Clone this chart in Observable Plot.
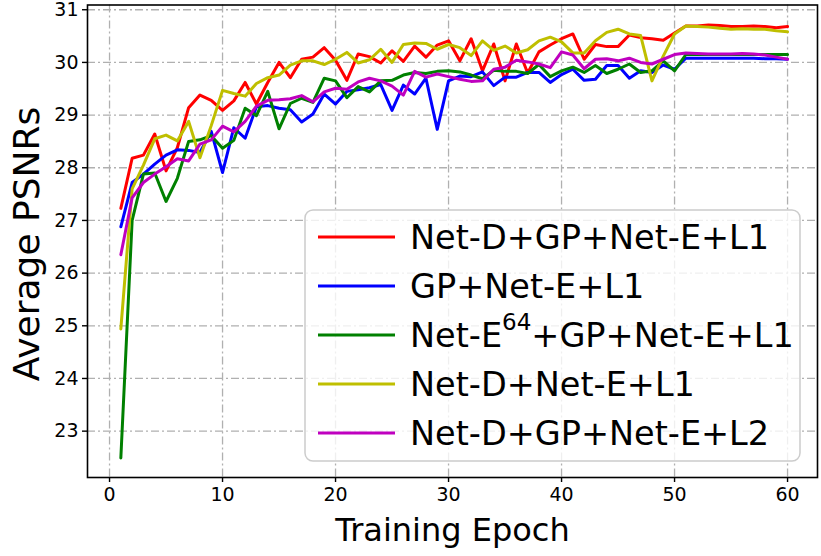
<!DOCTYPE html>
<html><head><meta charset="utf-8">
<script src="https://cdn.jsdelivr.net/npm/d3@7"></script>
<script src="https://cdn.jsdelivr.net/npm/@observablehq/plot@0.6"></script>
<style>
body{margin:0;background:#fff;}
#chart svg{display:block;}
</style></head><body><div id="chart"></div>
<script>
const seriesNames = ["Net-D+GP+Net-E+L1", "GP+Net-E+L1", "Net-E64+GP+Net-E+L1", "Net-D+Net-E+L1", "Net-D+GP+Net-E+L2"];
const seriesColors = ["#ff0000", "#0000ff", "#008000", "#bfbf00", "#bf00bf"];
const xTicks = [0, 10, 20, 30, 40, 50, 60];
const yTicks = [23, 24, 25, 26, 27, 28, 29, 30, 31];
const epochs = d3.range(1, 61);

const netDGPNetEL1 = [27.23,28.18,28.24,28.64,27.94,28.38,29.14,29.38,29.28,29.09,
  29.27,29.62,29.21,29.62,30.00,29.71,30.06,30.10,30.28,30.04,
  29.66,30.16,30.11,29.99,30.22,30.02,30.31,30.10,30.33,30.41,
  30.03,30.45,29.84,30.35,29.65,30.35,29.80,30.20,30.33,30.45,
  30.54,30.06,30.34,30.30,30.30,30.52,30.47,30.45,30.42,30.56,
  30.69,30.69,30.71,30.70,30.68,30.68,30.69,30.68,30.66,30.68];
const gpNetEL1 = [26.88,27.72,27.88,28.07,28.24,28.34,28.33,28.29,28.69,27.91,
  28.76,28.56,29.16,29.18,29.13,29.10,28.87,29.02,29.40,29.21,
  29.45,29.48,29.52,29.58,29.09,29.57,29.40,29.70,28.73,29.65,
  29.74,29.73,29.82,29.56,29.72,29.72,29.81,29.81,29.62,29.77,
  29.87,29.66,29.68,29.94,29.94,29.70,29.84,29.81,29.95,29.87,
  30.08,30.08,30.08,30.08,30.08,30.08,30.08,30.07,30.07,30.06];
const netE64GPNetEL1 = [22.49,27.00,27.88,27.90,27.36,27.80,28.50,28.53,28.61,28.37,
  28.52,29.13,28.99,29.45,28.74,29.22,29.32,29.24,29.70,29.65,
  29.33,29.54,29.44,29.65,29.66,29.76,29.81,29.79,29.83,29.84,
  29.82,29.76,29.69,29.85,29.83,29.83,29.79,29.96,29.73,29.84,
  29.91,29.81,29.94,29.79,29.87,29.97,29.81,29.84,30.03,29.84,
  30.15,30.15,30.15,30.15,30.15,30.15,30.15,30.15,30.15,30.15];
const netDNetEL1 = [24.94,27.60,28.05,28.55,28.62,28.51,28.88,28.19,28.80,29.47,
  29.41,29.36,29.60,29.71,29.76,29.95,30.03,30.03,29.96,30.06,
  30.19,29.99,30.05,30.25,30.00,30.34,30.37,30.36,30.25,30.34,
  30.28,30.13,30.41,30.23,30.31,30.18,30.24,30.41,30.48,30.39,
  30.18,30.18,30.41,30.57,30.63,30.54,30.51,29.65,30.12,30.54,
  30.69,30.68,30.67,30.65,30.63,30.64,30.63,30.63,30.60,30.58];
const netDGPNetEL2 = [26.35,27.43,27.72,27.88,28.02,28.17,28.13,28.45,28.53,28.79,
  28.68,28.88,29.17,29.28,29.29,29.31,29.37,29.25,29.44,29.51,
  29.49,29.63,29.70,29.65,29.55,29.38,29.83,29.72,29.78,29.73,
  29.68,29.64,29.65,29.87,29.91,30.04,30.01,29.97,29.90,30.20,
  30.14,29.88,30.06,30.07,30.03,30.08,30.00,29.97,30.06,30.15,
  30.18,30.17,30.16,30.16,30.16,30.17,30.16,30.14,30.10,30.06];

const seriesValues = [netDGPNetEL1, gpNetEL1, netE64GPNetEL1, netDNetEL1, netDGPNetEL2];
const rows = [];
seriesNames.forEach((name, s) => {
  epochs.forEach((e, i) => rows.push({series: name, epoch: e, value: seriesValues[s][i]}));
});

const gridStyle = {stroke: "#b0b0b0", strokeOpacity: 1, strokeWidth: 1.3, strokeDasharray: "8,3,2,3"};

const chart = Plot.plot({
  width: 821, height: 556,
  marginLeft: 87, marginRight: 4, marginTop: 4.5, marginBottom: 79,
  style: {fontFamily: "DejaVu Sans", background: "#fff", overflow: "visible", color: "#000"},
  x: {domain: [-1.95, 62.65]},
  y: {domain: [22.12, 31.09]},
  color: {domain: seriesNames, range: seriesColors},
  marks: [
    Plot.gridX(xTicks, gridStyle),
    Plot.gridY(yTicks, gridStyle),
    Plot.line(rows, {x: "epoch", y: "value", z: "series", stroke: "series", strokeWidth: 3, strokeLinejoin: "round"}),
    Plot.frame({stroke: "#000", strokeWidth: 1.6}),
    Plot.axisX(xTicks, {tickSize: 5, tickPadding: 5, fontSize: 19, label: null, strokeWidth: 1.4, tickFormat: d => String(d)}),
    Plot.axisY(yTicks, {tickSize: 5, tickPadding: 4, fontSize: 19, label: null, strokeWidth: 1.4, tickFormat: d => String(d)}),
    Plot.text(["Training Epoch"], {frameAnchor: "bottom", dy: 63, fontSize: 32, fill: "#000"})
  ]
});
document.getElementById("chart").append(chart);

const svg = d3.select(chart);
// y-axis title
svg.append("text").attr("transform", "translate(26,244) rotate(-90)")
  .attr("text-anchor", "middle").attr("dy", "0.36em")
  .attr("font-family", "DejaVu Sans").attr("font-size", 36).attr("fill", "#000")
  .text("Average PSNRs");

// legend (matplotlib style, lower right)
const lg = svg.append("g").attr("font-family", "DejaVu Sans").attr("text-anchor", "start");
const box = {x: 305, y: 210, w: 495, h: 251};
lg.append("rect").attr("x", box.x).attr("y", box.y).attr("width", box.w).attr("height", box.h)
  .attr("rx", 8).attr("fill", "#fff").attr("fill-opacity", 0.8).attr("stroke", "#cccccc").attr("stroke-width", 1.5);
seriesNames.forEach((name, i) => {
  const cy = 237 + i * 49;
  lg.append("line").attr("x1", 318).attr("x2", 395).attr("y1", cy).attr("y2", cy)
    .attr("stroke", seriesColors[i]).attr("stroke-width", 3);
  const t = lg.append("text").attr("x", 410).attr("y", cy).attr("dy", "0.36em")
    .attr("text-anchor", "start").attr("font-size", 33.5).attr("fill", "#000");
  if (name === "Net-E64+GP+Net-E+L1") {
    t.append("tspan").text("Net-E");
    t.append("tspan").attr("font-size", 23).attr("dy", "-0.75em").text("64");
    t.append("tspan").attr("dy", "0.52em").text("+GP+Net-E+L1");
  } else {
    t.text(name);
  }
});
</script></body></html>
